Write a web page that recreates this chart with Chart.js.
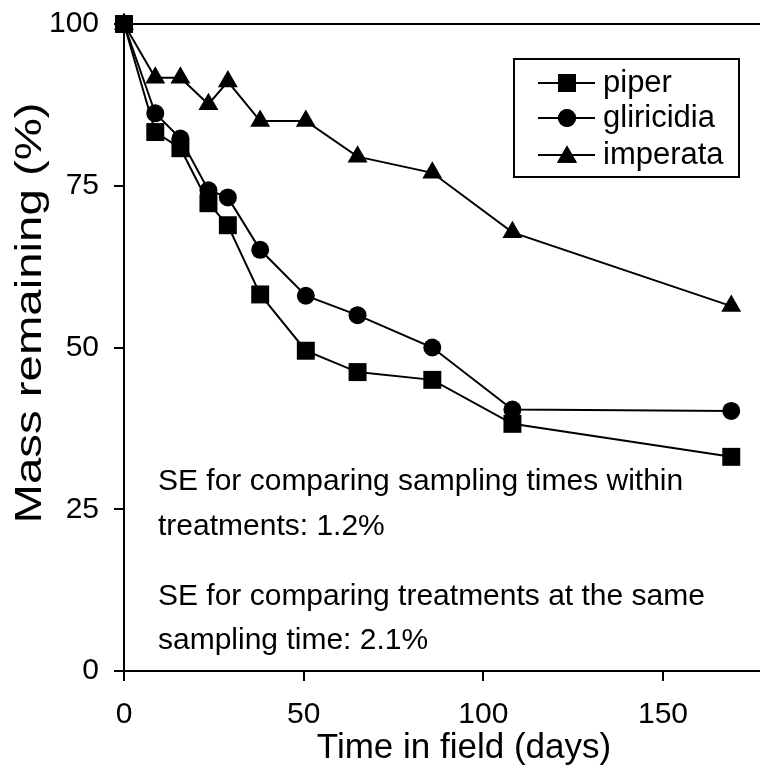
<!DOCTYPE html>
<html lang="en">
<head>
<meta charset="UTF-8">
<title>Mass remaining</title>
<script src="https://cdn.jsdelivr.net/npm/chart.js"></script>
<style>
  html, body { margin: 0; padding: 0; background: #fff; }
  #wrap { width: 760px; height: 769px; }
</style>
</head>
<body>
<div id="wrap"><canvas id="grafico" width="760" height="769"></canvas></div>
<script>
// sampling days and % mass remaining per litter type
const days = [0, 8.7, 15.7, 23.5, 28.9, 37.9, 50.6, 65, 85.8, 108.1, 169];
const piper = [100, 83.3, 80.8, 72.3, 68.9, 58.2, 49.5, 46.2, 45.0, 38.2, 33.1];
const gliricidia = [100, 86.2, 82.3, 74.3, 73.2, 65.1, 58.0, 55.0, 50.0, 40.4, 40.2];
const imperata = [100, 91.7, 91.7, 87.6, 91.1, 85.0, 85.0, 79.5, 77.0, 67.8, 56.4];

const seriesNames = ['piper', 'gliricidia', 'imperata'];
const xTicks = [0, 50, 100, 150];
const yTicks = [0, 25, 50, 75, 100];
const xTitle = 'Time in field (days)';
const yTitle = 'Mass remaining (%)';
const notes = [
  'SE for comparing sampling times within',
  'treatments: 1.2%',
  'SE for comparing treatments at the same',
  'sampling time: 2.1%'
];

const FONT = 'Liberation Sans, Arial, sans-serif';

function pts(vals) {
  return days.map((d, i) => ({ x: d, y: vals[i] }));
}

const styles = [
  { pointStyle: 'rect', radius: 12.7 },
  { pointStyle: 'circle', radius: 9 },
  { pointStyle: 'triangle', radius: 11.5 }
];

const datasets = [piper, gliricidia, imperata].map((vals, i) => ({
  label: seriesNames[i],
  data: pts(vals),
  borderColor: '#000',
  backgroundColor: '#000',
  borderWidth: 2,
  pointStyle: styles[i].pointStyle,
  pointRadius: styles[i].radius,
  pointBorderWidth: 0,
  pointBackgroundColor: '#000',
  tension: 0,
  clip: false
})).reverse();

// top frame line, axis titles, legend box and SE notes
const extras = {
  id: 'extras',
  afterDraw(chart) {
    const ctx = chart.ctx;
    const a = chart.chartArea;
    ctx.save();
    ctx.strokeStyle = '#000';
    ctx.fillStyle = '#000';
    ctx.lineWidth = 2;
    ctx.beginPath();
    ctx.moveTo(a.left, a.top);
    ctx.lineTo(760, a.top);
    ctx.stroke();

    // axis titles
    ctx.font = '35px ' + FONT;
    ctx.textAlign = 'center';
    ctx.textBaseline = 'alphabetic';
    ctx.fillText(xTitle, 464, 758);
    ctx.save();
    ctx.translate(31, 313);
    ctx.rotate(-Math.PI / 2);
    ctx.scale(1.28, 1);
    ctx.font = '37px ' + FONT;
    ctx.textBaseline = 'middle';
    ctx.fillText(yTitle, 0, 0);
    ctx.restore();

    // legend
    ctx.textAlign = 'left';
    ctx.strokeRect(514, 59, 225, 118);
    const rows = [83, 118, 155];
    ctx.font = '31px ' + FONT;
    ctx.textBaseline = 'middle';
    seriesNames.forEach((name, i) => {
      const y = rows[i];
      ctx.beginPath();
      ctx.moveTo(538, y);
      ctx.lineTo(595, y);
      ctx.stroke();
      Chart.helpers.drawPoint(ctx, {
        pointStyle: styles[i].pointStyle,
        radius: styles[i].radius,
        rotation: 0,
        borderWidth: 0
      }, 567, i === 2 ? y + 2 : y);
      ctx.fill();
      ctx.fillText(name, 603, y);
    });

    // notes
    ctx.font = '30px ' + FONT;
    ctx.textBaseline = 'alphabetic';
    const base = [490, 535, 605, 649];
    notes.forEach((t, i) => ctx.fillText(t, 158, base[i]));
    ctx.restore();
  }
};

new Chart(document.getElementById('grafico'), {
  type: 'line',
  data: { datasets },
  options: {
    responsive: false,
    animation: false,
    layout: { autoPadding: false, padding: { top: 24, right: 0, left: 0, bottom: 0 } },
    plugins: { legend: { display: false }, tooltip: { enabled: false } },
    scales: {
      x: {
        type: 'linear',
        min: 0,
        max: 177,
        afterFit(s) { s.height = 98; s.paddingLeft = 0; s.paddingRight = 0; },
        afterBuildTicks(s) { s.ticks = xTicks.map(v => ({ value: v })); },
        border: { display: true, color: '#000', width: 2 },
        grid: { display: true, drawOnChartArea: false, drawTicks: true, tickLength: 10, color: '#000', lineWidth: 2 },
        ticks: { color: '#000', font: { family: FONT, size: 30 }, padding: 16, maxRotation: 0 }
      },
      y: {
        min: 0,
        max: 100,
        afterFit(s) { s.width = 124; s.paddingTop = 0; s.paddingBottom = 0; },
        afterBuildTicks(s) { s.ticks = yTicks.map(v => ({ value: v })); },
        border: { display: true, color: '#000', width: 2 },
        grid: { display: true, drawOnChartArea: false, drawTicks: true, tickLength: 10, color: '#000', lineWidth: 2 },
        ticks: { color: '#000', font: { family: FONT, size: 30 }, padding: 15 }
      }
    }
  },
  plugins: [extras]
});
</script>
</body>
</html>
